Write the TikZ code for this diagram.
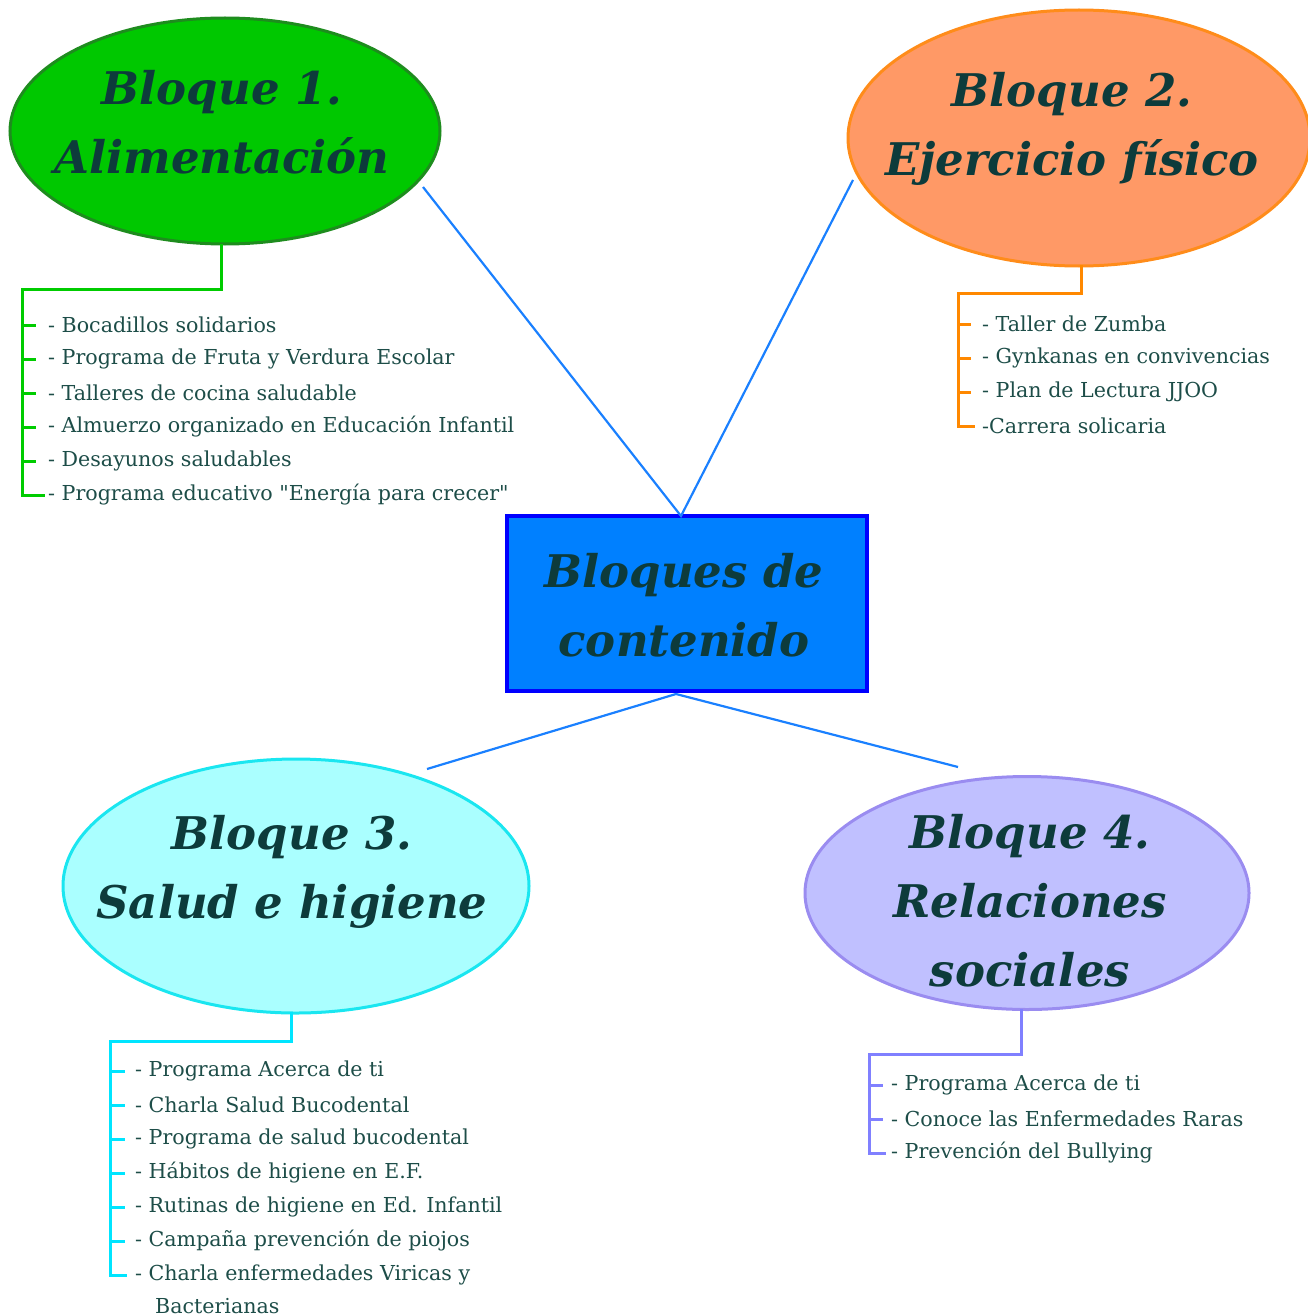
\documentclass[tikz,border=0pt]{standalone}
\usepackage{fontspec}
\setmainfont{DejaVu Serif}[Ligatures=TeXOff]
\newfontfamily\titlefont{DejaVu Serif}
\usetikzlibrary{shapes.geometric}
\definecolor{txt}{HTML}{1D4D48}
\definecolor{ttl}{HTML}{0D3B3B}
\definecolor{conn}{HTML}{1A80FF}
\definecolor{gfill}{HTML}{00C800}
\definecolor{gdraw}{HTML}{1E8C1E}
\definecolor{gline}{HTML}{00CC00}
\definecolor{ofill}{HTML}{FF9966}
\definecolor{odraw}{HTML}{FF8C1A}
\definecolor{oline}{HTML}{FF8800}
\definecolor{cfill}{HTML}{AAFFFF}
\definecolor{cdraw}{HTML}{1AE6F0}
\definecolor{cline}{HTML}{00E5FF}
\definecolor{lfill}{HTML}{C0C0FF}
\definecolor{ldraw}{HTML}{9A8CF0}
\definecolor{lline}{HTML}{8080FF}
\definecolor{bfill}{HTML}{0080FF}
\definecolor{bdraw}{HTML}{0000FF}
\begin{document}
\begin{tikzpicture}[x=1pt,y=-1pt,
  blob/.style={ellipse, draw, line width=3pt, inner sep=0pt},
  title/.style={text=ttl, align=center, font=\titlefont\bfseries\itshape\fontsize{45}{69}\selectfont},
  item/.style={anchor=west, text=txt, inner sep=0pt, font=\fontsize{20.6}{34}\selectfont},
  link/.style={draw=conn, line width=2.2pt},
  tree/.style={line width=3pt}]
\useasboundingbox (0,0) rectangle (1307,1316);

% central box
\node[draw=bdraw, fill=bfill, line width=4pt, minimum width=360pt, minimum height=175pt] (c) at (687,603.5) {};
\node[title] (ct) at (684,605) {Bloques de\\contenido};

% ellipses
\node[blob, fill=gfill, draw=gdraw, minimum width=430pt, minimum height=226pt] (e1) at (225,131) {};
\node[title] (t1) at (222,122) {Bloque 1.\\Alimentación};
\node[blob, fill=ofill, draw=odraw, minimum width=462pt, minimum height=256pt] (e2) at (1079,138) {};
\node[title] (t2) at (1072,129) {Bloque 2.\\Ejercicio físico};
\node[blob, fill=cfill, draw=cdraw, minimum width=466pt, minimum height=254pt] (e3) at (296,886) {};
\node[title] (t3) at (292,872) {Bloque 3.\\Salud e higiene};
\node[blob, fill=lfill, draw=ldraw, minimum width=444pt, minimum height=233pt] (e4) at (1027,893) {};
\node[title] (t4) at (1030,901) {Bloque 4.\\Relaciones\\sociales};

% connectors
\coordinate (a1) at (423,187);
\coordinate (a2) at (853,180);
\coordinate (a3) at (427,769);
\coordinate (a4) at (958,767);
\coordinate (ctop) at (681,516);
\coordinate (cbot) at (676,694);
\draw[link] (a1) -- (ctop) -- (a2);
\draw[link] (a3) -- (cbot) -- (a4);

% green tree
\node[item] (g1) at (48,325) {- Bocadillos solidarios};
\node[item] (g2) at (48,359) {- Programa de Fruta y Verdura Escolar};
\node[item] (g3) at (48,393) {- Talleres de cocina saludable};
\node[item] (g4) at (48,427) {- Almuerzo organizado en Educación Infantil};
\node[item] (g5) at (48,461) {- Desayunos saludables};
\node[item] (g6) at (48,495) {- Programa educativo "Energía para crecer"};
\coordinate (gx) at (22,289);
\draw[tree, draw=gline] (221,244) -- (221,289) -- (gx) -- (gx |- g6.west) -- ++(23,0);
\foreach \i in {1,...,5} \draw[tree, draw=gline] (gx |- g\i.west) -- ++(14,0);

% orange tree
\node[item] (o1) at (982,324) {- Taller de Zumba};
\node[item] (o2) at (982,358) {- Gynkanas en convivencias};
\node[item] (o3) at (982,392) {- Plan de Lectura JJOO};
\node[item] (o4) at (982,426) {-Carrera solicaria};
\coordinate (ox) at (958,293);
\draw[tree, draw=oline] (1081,265) -- (1081,293) -- (ox) -- (ox |- o4.west) -- ++(17,0);
\foreach \i in {1,...,3} \draw[tree, draw=oline] (ox |- o\i.west) -- ++(13,0);

% cyan tree
\node[item] (s1) at (135,1071) {- Programa Acerca de ti};
\node[item] (s2) at (135,1105) {- Charla Salud Bucodental};
\node[item] (s3) at (135,1139) {- Programa de salud bucodental};
\node[item] (s4) at (135,1173) {- Hábitos de higiene en E.F.};
\node[item] (s5) at (135,1207) {- Rutinas de higiene en Ed. Infantil};
\node[item] (s6) at (135,1241) {- Campaña prevención de piojos};
\node[item] (s7) at (135,1275) {- Charla enfermedades Viricas y};
\node[item] (s8) at (155,1306) {Bacterianas};
\coordinate (sx) at (110,1041);
\draw[tree, draw=cline] (291,1012) -- (291,1041) -- (sx) -- (sx |- s7.west) -- ++(17,0);
\foreach \i in {1,...,6} \draw[tree, draw=cline] (sx |- s\i.west) -- ++(15,0);

% lavender tree
\node[item] (l1) at (891,1085) {- Programa Acerca de ti};
\node[item] (l2) at (891,1119) {- Conoce las Enfermedades Raras};
\node[item] (l3) at (891,1153) {- Prevención del Bullying};
\coordinate (lx) at (869,1054);
\draw[tree, draw=lline] (1021,1009) -- (1021,1054) -- (lx) -- (lx |- l3.west) -- ++(17,0);
\foreach \i in {1,2} \draw[tree, draw=lline] (lx |- l\i.west) -- ++(14,0);
\end{tikzpicture}
\end{document}
